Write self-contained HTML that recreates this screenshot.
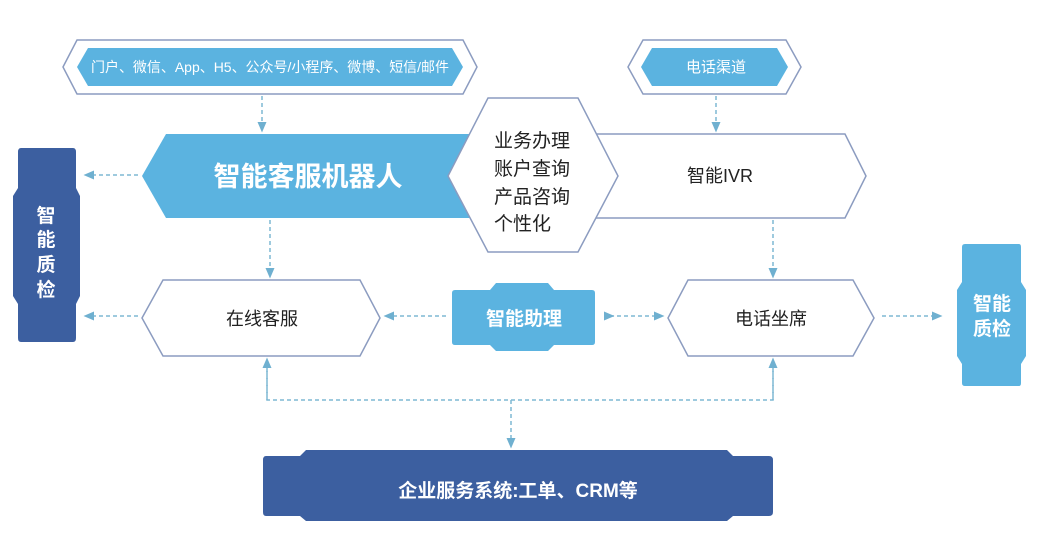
<!DOCTYPE html>
<html><head><meta charset="utf-8"><style>
body{margin:0;background:#fff}
svg{display:block}
text{font-family:"Liberation Sans","Noto Sans CJK SC",sans-serif}
</style></head><body>
<svg width="1044" height="552" viewBox="0 0 1044 552" xmlns="http://www.w3.org/2000/svg">
<defs>
<marker id="a" markerWidth="8" markerHeight="8" refX="4" refY="4" orient="auto"><path d="M0,1 L7,4 L0,7 Z" fill="#6fb0d0"/></marker>
</defs>
<g stroke="#7fb8d4" stroke-width="1.5" stroke-dasharray="4,3" fill="none">
<line x1="262" y1="96" x2="262" y2="128" marker-end="url(#a)"/>
<line x1="716" y1="96" x2="716" y2="128" marker-end="url(#a)"/>
<line x1="138" y1="175" x2="88" y2="175" marker-end="url(#a)"/>
<line x1="270" y1="220" x2="270" y2="274" marker-end="url(#a)"/>
<line x1="773" y1="220" x2="773" y2="274" marker-end="url(#a)"/>
<line x1="138" y1="316" x2="88" y2="316" marker-end="url(#a)"/>
<line x1="446" y1="316" x2="388" y2="316" marker-end="url(#a)"/>
<line x1="610" y1="316" x2="660" y2="316" marker-end="url(#a)" marker-start="url(#a)"/>
<line x1="882" y1="316" x2="938" y2="316" marker-end="url(#a)"/>
<polyline points="267,364 267,400 773,400 773,364"/>
<line x1="267" y1="400" x2="267" y2="362" marker-end="url(#a)"/>
<line x1="773" y1="400" x2="773" y2="362" marker-end="url(#a)"/>
<line x1="511" y1="400" x2="511" y2="444" marker-end="url(#a)"/>
</g>
<polygon points="63,67 77,40 463,40 477,67 463,94 77,94" fill="#fff" stroke="#8c9cc0" stroke-width="1.5"/>
<polygon points="77,67 88,48 452,48 463,67 452,86 88,86" fill="#5bb3e0"/>
<text x="91" y="72" font-size="14" fill="#fff" textLength="358" lengthAdjust="spacingAndGlyphs">门户、微信、App、H5、公众号/小程序、微博、短信/邮件</text>
<polygon points="628,67 643,40 786,40 801,67 786,94 643,94" fill="#fff" stroke="#8c9cc0" stroke-width="1.5"/>
<polygon points="641,67 652,48 777,48 788,67 777,86 652,86" fill="#5bb3e0"/>
<text x="716" y="72" font-size="15" fill="#fff" text-anchor="middle">电话渠道</text>
<polygon points="580,134 845,134 866,176 845,218 580,218" fill="#fff" stroke="#8c9cc0" stroke-width="1.5"/>
<text x="720" y="182" font-size="18" fill="#222" text-anchor="middle">智能IVR</text>
<polygon points="142,176 166,134 480,134 480,218 166,218" fill="#5bb3e0"/>
<text x="308" y="186" font-size="27" font-weight="bold" fill="#fff" text-anchor="middle">智能客服机器人</text>
<polygon points="448,176 488,98 578,98 618,176 578,252 488,252" fill="#fff" stroke="#8c9cc0" stroke-width="1.5"/>
<g font-size="19" fill="#222"><text x="494" y="147">业务办理</text><text x="494" y="175">账户查询</text><text x="494" y="203">产品咨询</text><text x="494" y="230">个性化</text></g>
<path d="M21,148 H73 Q76,148 76,152 V188 L80,196 V296 L76,304 V338 Q76,342 73,342 H21 Q18,342 18,338 V304 L13,296 V196 L18,188 V152 Q18,148 21,148 Z" fill="#3c5fa0"/>
<g font-size="19" font-weight="bold" fill="#fff" text-anchor="middle"><text x="46" y="222">智</text><text x="46" y="246">能</text><text x="46" y="271">质</text><text x="46" y="296">检</text></g>
<polygon points="142,318 163,280 360,280 380,318 360,356 163,356" fill="#fff" stroke="#8c9cc0" stroke-width="1.5"/>
<text x="262" y="325" font-size="18" fill="#222" text-anchor="middle">在线客服</text>
<path d="M455,290 H490 L496,283 H548 L554,290 H592 Q595,290 595,293 V342 Q595,345 592,345 H554 L548,351 H496 L490,345 H455 Q452,345 452,342 V293 Q452,290 455,290 Z" fill="#5bb3e0"/>
<text x="524" y="325" font-size="19" font-weight="bold" fill="#fff" text-anchor="middle">智能助理</text>
<polygon points="668,318 688,280 853,280 874,318 853,356 688,356" fill="#fff" stroke="#8c9cc0" stroke-width="1.5"/>
<text x="771" y="325" font-size="18" fill="#222" text-anchor="middle">电话坐席</text>
<path d="M965,244 H1019 Q1021,244 1021,247 V282 L1026,290 V356 L1021,364 V383 Q1021,386 1019,386 H965 Q962,386 962,383 V364 L957,356 V290 L962,282 V247 Q962,244 965,244 Z" fill="#5bb3e0"/>
<g font-size="19" font-weight="bold" fill="#fff" text-anchor="middle"><text x="992" y="310">智能</text><text x="992" y="335">质检</text></g>
<path d="M266,456 H300 L306,450 H727 L733,456 H769 Q773,456 773,460 V512 Q773,516 769,516 H733 L727,521 H306 L300,516 H266 Q263,516 263,512 V460 Q263,456 266,456 Z" fill="#3c5fa0"/>
<text x="518" y="497" font-size="19" font-weight="bold" fill="#fff" text-anchor="middle">企业服务系统:工单、CRM等</text>
</svg>
</body></html>
